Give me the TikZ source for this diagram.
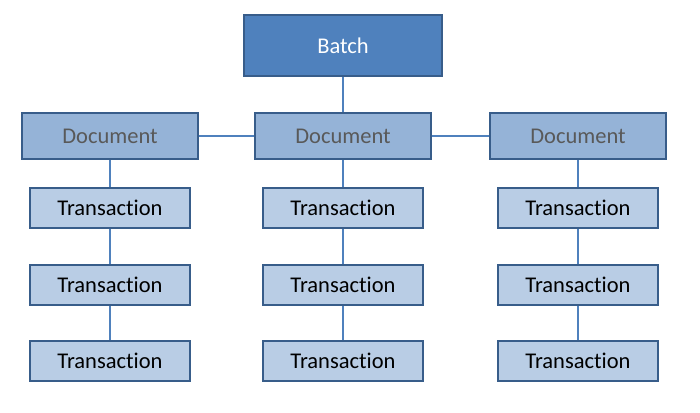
\documentclass[tikz,border=0pt]{standalone}
\usepackage{fontspec}
\setmainfont[Ligatures={NoCommon}]{Carlito}
\definecolor{batchfill}{HTML}{4F81BD}
\definecolor{boxline}{HTML}{385D8A}
\definecolor{docfill}{HTML}{95B3D7}
\definecolor{transfill}{HTML}{B9CDE5}
\definecolor{doctext}{HTML}{595959}
\begin{document}
\begin{tikzpicture}[x=1pt, y=-1pt,
    box/.style={draw=boxline, line width=1.6pt, inner sep=0pt, font=\fontsize{22.5}{26}\selectfont},
    batch/.style={box, fill=batchfill, text=white, minimum width=198pt, minimum height=61pt},
    doc/.style={box, fill=docfill, text=doctext, minimum width=176pt, minimum height=46pt},
    trans/.style={box, fill=transfill, minimum width=160pt, minimum height=40pt},
    link/.style={draw=batchfill, line width=1.6pt}]
    \useasboundingbox (0,0) rectangle (700,412);

    \node[batch] (batch) at (343,45.5) {Batch};

    \node[doc] (doc1) at (110,136) {Document};
    \node[doc] (doc2) at (343,136) {Document};
    \node[doc] (doc3) at (578,136) {Document};

    \foreach \col/\x in {1/110, 2/343, 3/578}
        \foreach \row/\y in {1/208, 2/285, 3/361}
            \node[trans] (t\col\row) at (\x,\y) {Transaction};

    % connectors
    \draw[link] (batch) -- (doc2);
    \draw[link] (doc1) -- (doc2) -- (doc3);
    \foreach \col in {1,2,3}
        \draw[link] (doc\col) -- (t\col1) -- (t\col2) -- (t\col3);
\end{tikzpicture}
\end{document}
